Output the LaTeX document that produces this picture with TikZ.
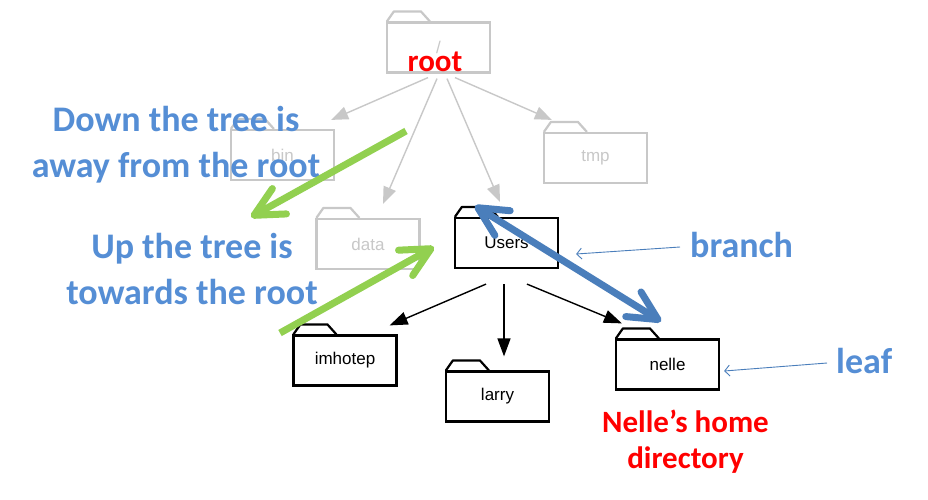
\documentclass[tikz,border=0pt]{standalone}
\usepackage{fontspec}
\setmainfont{Carlito}
\newfontfamily\arialf{Liberation Sans}
\usetikzlibrary{arrows.meta}
\definecolor{lgray}{RGB}{200,200,200}
\definecolor{tblue}{RGB}{85,142,213}
\definecolor{dblue}{RGB}{74,126,187}
\definecolor{lgreen}{RGB}{146,208,80}
\definecolor{tred}{RGB}{255,0,0}
\newcommand\mkfolder[4]{%
  \node[folderbox,#4] (#1) at (#2) {#3};
  \draw[#4, line width=2.2pt, line join=round] ([xshift=1pt]#1.north west) -- ++(7,-10) -- ++(27,0) -- ++(9,10);}
\begin{document}
\begin{tikzpicture}[x=1pt,y=-1pt,
  folderbox/.style={draw, line width=2.2pt, minimum width=103pt, minimum height=50pt, inner sep=0pt,
    font=\arialf\fontsize{17}{20}\selectfont},
  fgray/.style={draw=lgray, text=lgray},
  fblack/.style={draw=black, text=black},
  grayarrow/.style={draw=lgray, line width=1.4pt, -{Triangle[length=17pt,width=13pt]}},
  blackarrow/.style={draw=black, line width=1.4pt, -{Triangle[length=18pt,width=13pt]}},
  bluelbl/.style={text=tblue, inner sep=0pt, font=\bfseries\fontsize{36}{45.5}\selectfont},
  redlbl/.style={text=tred, inner sep=0pt, font=\bfseries\fontsize{31}{36}\selectfont},
  bigarrow/.style={line width=7pt, -{Straight Barb[length=29pt,width=29pt,round]}},
  thinarrow/.style={draw=dblue, line width=0.9pt, -{Straight Barb[length=5pt,width=11pt]}}
]
\fill[white] (0,0) rectangle (928,499);
\useasboundingbox (0,0) rectangle (928,499);

% gray folders
\mkfolder{root}{438.5,47.5}{/}{fgray}
\mkfolder{bin}{282.5,155}{bin}{fgray}
\mkfolder{tmp}{595.5,158}{tmp}{fgray}
\mkfolder{data}{368,244}{data}{fgray}
% black folders
\mkfolder{users}{506.5,243}{Users}{fblack}
\mkfolder{imhotep}{345,360.5}{imhotep}{fblack}
\mkfolder{larry}{497.5,396.5}{larry}{fblack}
\mkfolder{nelle}{667.5,364.5}{nelle}{fblack}

% gray arrows
\draw[grayarrow] ([shift={(-10.5,4)}]root.south) -- ([shift={(-4,-9)}]bin.north east);
\draw[grayarrow] ([shift={(-1.5,5)}]root.south) -- ([shift={(15,-14)}]data.north);
\draw[grayarrow] ([shift={(8.5,5)}]root.south) -- ([shift={(-6.5,-15)}]users.north);
\draw[grayarrow] ([shift={(16.5,4)}]root.south) -- ([shift={(9,-12)}]tmp.north west);

% black arrows
\draw[blackarrow] ([shift={(-20.5,15)}]users.south) -- ([shift={(-8,-9)}]imhotep.north east);
\draw[blackarrow] ([shift={(-2.5,15)}]users.south) -- ([shift={(6.5,-14)}]larry.north);
\draw[blackarrow] ([shift={(20.5,15)}]users.south) -- ([shift={(7,-15)}]nelle.north west);

% labels
\node[redlbl, anchor=base] (rootlbl) at (435,71) {root};
\node[bluelbl, align=center, anchor=base] (down) at (176,177) {Down the tree is\\away from the root};
\node[bluelbl, align=center, anchor=base] (up) at (192,304) {Up the tree is\\towards the root};
\node[bluelbl, anchor=base west] (branch) at (690,257) {branch};
\node[bluelbl, anchor=base west] (leaf) at (836,373) {leaf};
\node[redlbl, align=center, anchor=base] (home) at (685.5,468) {Nelle’s home\\directory};

% thin arrows
\draw[thinarrow] ([shift={(-10,-10)}]branch.base west) -- ([shift={(17,11)}]users.east);
\draw[thinarrow] ([shift={(-9,-10)}]leaf.base west) -- ([shift={(4,6.5)}]nelle.east);

% green arrows
\coordinate (g1s) at (406,131);
\coordinate (g1e) at (251,217);
\coordinate (g2s) at (280,333);
\coordinate (g2e) at (434,247);
\draw[bigarrow, draw=lgreen] (g1s) -- (g1e);
\draw[bigarrow, draw=lgreen] (g2s) -- (g2e);

% blue double arrow
\draw[line width=7pt, draw=dblue, {Straight Barb[length=29pt,width=29pt,round]}-{Straight Barb[length=29pt,width=29pt,round]}]
  ([shift={(21,-11)}]users.north west) -- ([shift={(-6.5,-17)}]nelle.north);
\end{tikzpicture}
\end{document}
